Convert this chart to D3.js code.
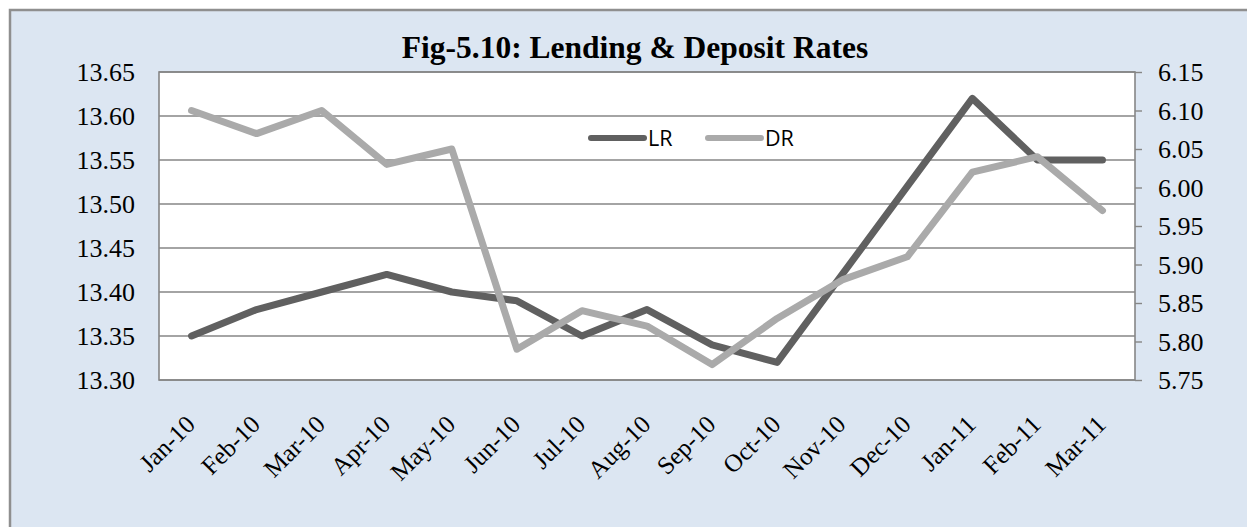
<!DOCTYPE html>
<html>
<head>
<meta charset="utf-8">
<script src="https://cdn.jsdelivr.net/npm/d3@7"></script>
<style>
  body { margin: 0; background: #fff; }
  svg { display: block; }
</style>
</head>
<body>
<script>
// chart data
var months = ["Jan-10", "Feb-10", "Mar-10", "Apr-10", "May-10", "Jun-10", "Jul-10", "Aug-10",
  "Sep-10", "Oct-10", "Nov-10", "Dec-10", "Jan-11", "Feb-11", "Mar-11"];
var lrValues = [13.35, 13.38, 13.40, 13.42, 13.40, 13.39, 13.35, 13.38, 13.34, 13.32, 13.42, 13.52, 13.62, 13.55, 13.55];
var drValues = [6.10, 6.07, 6.10, 6.03, 6.05, 5.79, 5.84, 5.82, 5.77, 5.83, 5.88, 5.91, 6.02, 6.04, 5.97];
var leftTicks = [13.30, 13.35, 13.40, 13.45, 13.50, 13.55, 13.60, 13.65];
var rightTicks = [5.75, 5.80, 5.85, 5.90, 5.95, 6.00, 6.05, 6.10, 6.15];
var seriesNames = ["LR", "DR"];
var chartTitle = "Fig-5.10: Lending & Deposit Rates";

var width = 1247,
  height = 527,
  plotLeft = 159,
  plotRight = 1135,
  plotTop = 72,
  plotBottom = 380;

var lrColor = "#606060",
  drColor = "#aaaaaa",
  gridColor = "#868686";

var svg = d3.select("body")
  .append("svg")
  .attr("width", width)
  .attr("height", height);

// outer chart box
svg.append("rect")
  .attr("x", 10)
  .attr("y", 10)
  .attr("width", width + 20)
  .attr("height", height + 20)
  .attr("fill", "#dce6f2")
  .attr("stroke", "#8f8f8f")
  .attr("stroke-width", 2.5);

svg.append("text")
  .attr("x", 635)
  .attr("y", 58)
  .attr("text-anchor", "middle")
  .style("font-family", "'Liberation Serif', 'Times New Roman', serif")
  .style("font-weight", "bold")
  .style("font-size", "31.5px")
  .text(chartTitle);

var xScale = d3.scaleBand()
  .domain(months)
  .range([plotLeft, plotRight])
  .padding(0);

var yLeft = d3.scaleLinear()
  .domain([13.30, 13.65])
  .range([plotBottom, plotTop]);

var yRight = d3.scaleLinear()
  .domain([5.75, 6.15])
  .range([plotBottom, plotTop]);

// plot area
svg.append("rect")
  .attr("x", plotLeft)
  .attr("y", plotTop)
  .attr("width", plotRight - plotLeft)
  .attr("height", plotBottom - plotTop)
  .attr("fill", "#fff");

svg.append("g")
  .selectAll("line")
  .data(leftTicks)
  .enter()
  .append("line")
  .attr("x1", plotLeft)
  .attr("x2", plotRight)
  .attr("y1", d => yLeft(d))
  .attr("y2", d => yLeft(d))
  .attr("stroke", gridColor)
  .attr("stroke-width", 1.4);

svg.append("rect")
  .attr("x", plotLeft)
  .attr("y", plotTop)
  .attr("width", plotRight - plotLeft)
  .attr("height", plotBottom - plotTop)
  .attr("fill", "none")
  .attr("stroke", gridColor)
  .attr("stroke-width", 1.6);

var tickFont = "'Liberation Serif', 'Times New Roman', serif";

// left axis labels
var yAxisL = d3.axisLeft(yLeft)
  .tickValues(leftTicks)
  .tickFormat(d3.format(".2f"))
  .tickSize(0)
  .tickPadding(24);
var gL = svg.append("g")
  .attr("transform", "translate(" + plotLeft + ",0)")
  .call(yAxisL);
gL.select(".domain").remove();
gL.selectAll("text")
  .style("font-family", tickFont)
  .style("font-size", "26px")
  .attr("fill", "#000")
  .attr("dy", "0.34em");

// right axis
var yAxisR = d3.axisRight(yRight)
  .tickValues(rightTicks)
  .tickFormat(d3.format(".2f"))
  .tickSize(7)
  .tickPadding(16);
var gR = svg.append("g")
  .attr("transform", "translate(" + plotRight + ",0)")
  .call(yAxisR);
gR.select(".domain").remove();
gR.selectAll("line").attr("stroke", gridColor).attr("stroke-width", 1.4);
gR.selectAll("text")
  .style("font-family", tickFont)
  .style("font-size", "26px")
  .attr("fill", "#000")
  .attr("dy", "0.34em");

// category axis labels
var xAxis = d3.axisBottom(xScale).tickSize(0).tickPadding(0);
var gX = svg.append("g")
  .attr("transform", "translate(0," + plotBottom + ")")
  .call(xAxis);
gX.select(".domain").remove();
gX.selectAll("text")
  .style("font-family", tickFont)
  .style("font-size", "25px")
  .attr("fill", "#000")
  .attr("text-anchor", "end")
  .attr("y", 0)
  .attr("dy", 0)
  .attr("transform", "translate(5,46) rotate(-45)");

// lines
var lrLine = d3.line()
  .x((d, i) => xScale(months[i]) + xScale.bandwidth() / 2)
  .y(d => yLeft(d));
var drLine = d3.line()
  .x((d, i) => xScale(months[i]) + xScale.bandwidth() / 2)
  .y(d => yRight(d));

svg.append("path")
  .datum(lrValues)
  .attr("d", lrLine)
  .attr("fill", "none")
  .attr("stroke", lrColor)
  .attr("stroke-width", 7)
  .attr("stroke-linejoin", "round")
  .attr("stroke-linecap", "round");

svg.append("path")
  .datum(drValues)
  .attr("d", drLine)
  .attr("fill", "none")
  .attr("stroke", drColor)
  .attr("stroke-width", 7)
  .attr("stroke-linejoin", "round")
  .attr("stroke-linecap", "round");

// legend
var legendX = [591, 708];
var legend = svg.append("g")
  .selectAll("g")
  .data(seriesNames)
  .enter()
  .append("g")
  .attr("transform", (d, i) => "translate(" + legendX[i] + ",138)");
legend.append("line")
  .attr("x1", 0)
  .attr("x2", 53)
  .attr("stroke", (d, i) => i == 0 ? lrColor : drColor)
  .attr("stroke-width", 6)
  .attr("stroke-linecap", "round");
legend.append("text")
  .attr("x", 57)
  .attr("y", 8)
  .style("font-family", "'Open Sans', sans-serif")
  .style("font-size", "21.5px")
  .text(d => d);
</script>
</body>
</html>
